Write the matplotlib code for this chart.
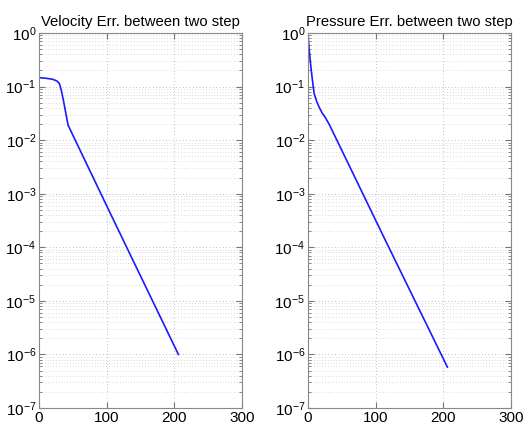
import matplotlib
matplotlib.use("Agg")
from matplotlib import pyplot as plt
from matplotlib.ticker import LogLocator, NullFormatter

# values
vel_iter = [0, 10, 20, 26, 30, 33, 36, 40, 43, 105, 206]
vel_err = [0.147, 0.143, 0.137, 0.128, 0.115, 0.085, 0.056, 0.030, 0.019, 4.4e-4, 1.0e-6]

pre_iter = [0, 2, 4, 6, 9, 13, 17, 21, 26, 32, 110, 206]
pre_err = [0.9, 0.45, 0.25, 0.15, 0.075, 0.052, 0.040, 0.032, 0.026, 0.019, 1.75e-4, 5.8e-7]

titles = ["Velocity Err. between two step", "Pressure Err. between two step"]
xticks = [0, 100, 200, 300]

plt.rcParams['font.family'] = ['Liberation Sans', 'DejaVu Sans']
plt.rcParams['mathtext.fontset'] = 'custom'
plt.rcParams['mathtext.rm'] = 'Liberation Sans'

fig = plt.figure(figsize=(5.23, 4.26), dpi=100)
positions = [[39/523, 18/426, 203/523, 375/426], [308/523, 18/426, 203/523, 375/426]]

for pos, x, y, title in zip(positions, [vel_iter, pre_iter], [vel_err, pre_err], titles):
    ax = fig.add_axes(pos)
    ax.semilogy(x, y, color='#1a1aff', linewidth=1.2)
    ax.set_xlim(0, 300)
    ax.set_ylim(1e-7, 1)
    ax.set_xticks(xticks)
    ax.yaxis.set_major_locator(LogLocator(base=10, numticks=10))
    ax.yaxis.set_minor_locator(LogLocator(base=10, subs=range(2, 10), numticks=20))
    ax.yaxis.set_minor_formatter(NullFormatter())
    ax.grid(True, which='major', linestyle=(0, (1, 3)), color='#aaaaaa', linewidth=0.6)
    ax.grid(True, which='minor', axis='y', linestyle=(0, (1, 3)), color='#bbbbbb', linewidth=0.5)
    ax.tick_params(which='both', direction='in', top=True, right=True, color='#777777',
                   labelsize=11, pad=2)
    ax.tick_params(which='major', length=4)
    ax.tick_params(which='minor', length=2)
    for s in ax.spines.values():
        s.set_color('#888888')
    ax.set_title(title, fontsize=10.7, pad=5)

fig.savefig("out.png", dpi=100)
